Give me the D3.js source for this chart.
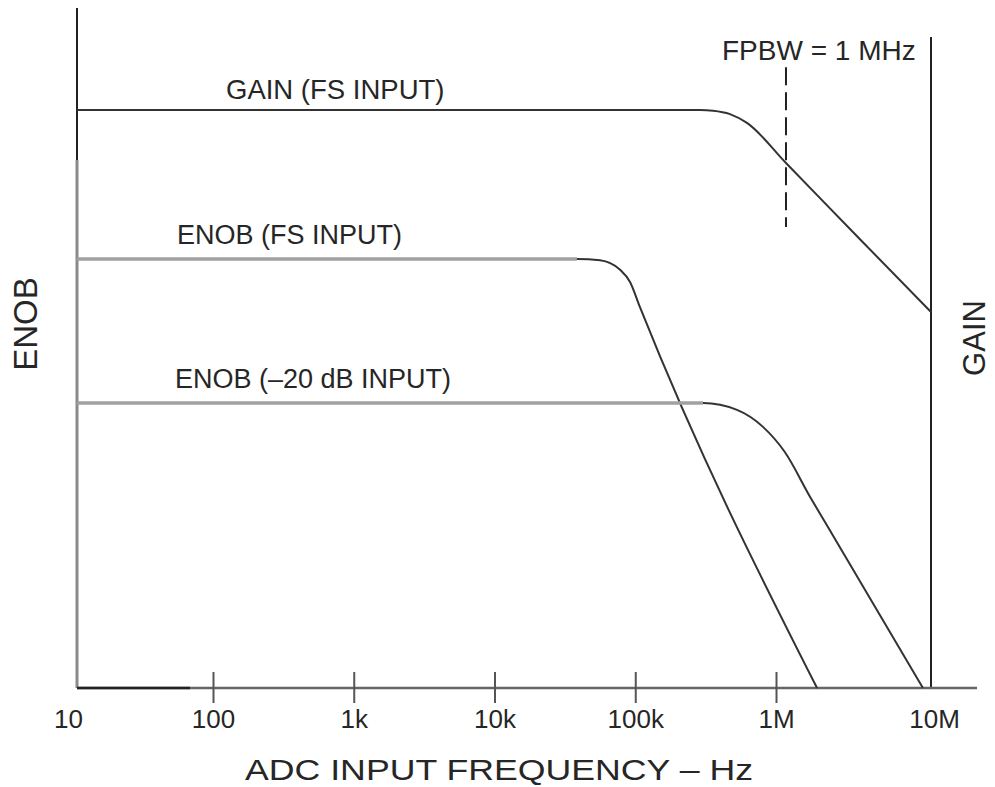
<!DOCTYPE html>
<html>
<head>
<meta charset="utf-8">
<script src="https://cdn.jsdelivr.net/npm/d3@7"></script>
<style>
  body { margin: 0; background: #fff; }
  text { font-family: "Liberation Sans", Arial, Helvetica, sans-serif; fill: #262626; }
</style>
</head>
<body>
<div id="vis1"></div>
<script>
// Frame
const FRAME_WIDTH = 995;
const FRAME_HEIGHT = 787;

// Data. Frequencies in Hz, levels in relative units 0..100
const TICK_VALUES = [10, 100, 1e3, 1e4, 1e5, 1e6, 1e7];
const TICK_LABELS = ["10", "100", "1k", "10k", "100k", "1M", "10M"];

const GAIN_FREQ  = [10, 2.88e5, 3.57e5, 4.71e5, 6.22e5, 1.16e6, 3.48e6, 1e7];
const GAIN_LEVEL = [85, 85, 84.9, 84.4, 83.1, 77.2, 66.0, 55.3];

const ENOB_FS_FREQ  = [10, 3.85e4, 5.62e4, 7.8e4, 9.18e4, 1.08e5, 1.84e6];
const ENOB_FS_LEVEL = [63.1, 63.1, 62.9, 61.5, 59.7, 56.0, 0];

const ENOB_20_FREQ  = [10, 3.03e5, 5.28e5, 8.08e5, 1.14e6, 1.66e6, 2.07e6, 8.87e6];
const ENOB_20_LEVEL = [41.9, 41.9, 40.9, 38.4, 34.7, 28.1, 24.4, 0];

const FPBW = 1.16e6;
const FPBW_RANGE = [67.8, 91.3];

const FRAME1 = d3.select("#vis1")
                  .append("svg")
                    .attr("width", FRAME_WIDTH)
                    .attr("height", FRAME_HEIGHT);

// scales (the drawing is not a perfect log grid, so piecewise)
const X_SCALE = d3.scaleLog()
                  .domain([10, 100, 1e6, 1e7])
                  .range([77, 213, 776, 931]);
const Y_SCALE = d3.scaleLinear()
                  .domain([0, 100])
                  .range([688, 8]);

const zip = (xs, ys) => xs.map((f, i) => ({f: f, v: ys[i]}));

const line = d3.line()
               .x((d) => X_SCALE(d.f))
               .y((d) => Y_SCALE(d.v))
               .curve(d3.curveMonotoneX);

// axes frame
FRAME1.append("line")   // left axis, upper dark part
  .attr("x1", X_SCALE(10)).attr("x2", X_SCALE(10))
  .attr("y1", Y_SCALE(100)).attr("y2", 160)
  .attr("stroke", "#222").attr("stroke-width", 2);
FRAME1.append("line")   // left axis, lower grey part
  .attr("x1", X_SCALE(10)).attr("x2", X_SCALE(10))
  .attr("y1", 160).attr("y2", Y_SCALE(0))
  .attr("stroke", "#8a8a8a").attr("stroke-width", 3);

FRAME1.append("line")   // right gain axis
  .attr("x1", X_SCALE(1e7)).attr("x2", X_SCALE(1e7))
  .attr("y1", 37).attr("y2", Y_SCALE(0))
  .attr("stroke", "#222").attr("stroke-width", 2);

FRAME1.append("line")   // x axis, grey
  .attr("x1", X_SCALE(10)).attr("x2", 977)
  .attr("y1", Y_SCALE(0)).attr("y2", Y_SCALE(0))
  .attr("stroke", "#666").attr("stroke-width", 2.5);
FRAME1.append("line")   // x axis, dark start
  .attr("x1", X_SCALE(10)).attr("x2", 190)
  .attr("y1", Y_SCALE(0)).attr("y2", Y_SCALE(0))
  .attr("stroke", "#222").attr("stroke-width", 2.5);

const xAxis = FRAME1.append("g")
  .attr("transform", "translate(0," + (Y_SCALE(0) - 16) + ")")
  .call(d3.axisBottom(X_SCALE)
          .tickValues(TICK_VALUES)
          .tickFormat((d, i) => TICK_LABELS[i])
          .tickSize(31)
          .tickPadding(7));
xAxis.select(".domain").remove();
xAxis.selectAll(".tick line")
  .attr("stroke", "#555").attr("stroke-width", 2)
  .attr("opacity", (d) => (d === 10 || d === 1e7) ? 0 : 1);
xAxis.selectAll(".tick text")
  .attr("font-size", 26)
  .attr("font-family", null)
  .attr("fill", "#262626")
  .attr("dx", (d) => d === 10 ? -9 : (d === 1e7 ? 3 : 0));

// curves
const curves = [
  {data: zip(GAIN_FREQ, GAIN_LEVEL), flat: "#333"},
  {data: zip(ENOB_FS_FREQ, ENOB_FS_LEVEL), flat: "#a0a0a0"},
  {data: zip(ENOB_20_FREQ, ENOB_20_LEVEL), flat: "#a0a0a0"}
];

curves.forEach((c) => {
  FRAME1.append("path")
    .attr("d", line(c.data))
    .attr("fill", "none")
    .attr("stroke", "#333")
    .attr("stroke-width", 2);
  // flat portion looks lighter in the scan
  FRAME1.append("path")
    .attr("d", line(c.data.slice(0, 2)))
    .attr("fill", "none")
    .attr("stroke", c.flat)
    .attr("stroke-width", c.flat === "#333" ? 2 : 3.5);
});

// FPBW marker
FRAME1.append("line")
  .attr("x1", X_SCALE(FPBW)).attr("x2", X_SCALE(FPBW))
  .attr("y1", Y_SCALE(FPBW_RANGE[1])).attr("y2", Y_SCALE(FPBW_RANGE[0]))
  .attr("stroke", "#222").attr("stroke-width", 2)
  .attr("stroke-dasharray", "18,7");

// labels
const label = (x, y, txt, size) => FRAME1.append("text")
  .attr("x", x).attr("y", y)
  .attr("font-size", size)
  .text(txt);

label(226, 99, "GAIN (FS INPUT)", 27.5);
label(722, 60, "FPBW = 1 MHz", 28);
label(177, 244, "ENOB (FS INPUT)", 27);
label(175, 388, "ENOB (\u201320 dB INPUT)", 27);

FRAME1.append("text")
  .attr("x", 245).attr("y", 780)
  .attr("font-size", 30)
  .attr("textLength", 508)
  .attr("lengthAdjust", "spacingAndGlyphs")
  .text("ADC INPUT FREQUENCY \u2013 Hz");

FRAME1.append("text")
  .attr("transform", "translate(37,324) rotate(-90)")
  .attr("text-anchor", "middle")
  .attr("font-size", 33)
  .text("ENOB");

FRAME1.append("text")
  .attr("transform", "translate(985,338) rotate(-90)")
  .attr("text-anchor", "middle")
  .attr("font-size", 31)
  .text("GAIN");
</script>
</body>
</html>
